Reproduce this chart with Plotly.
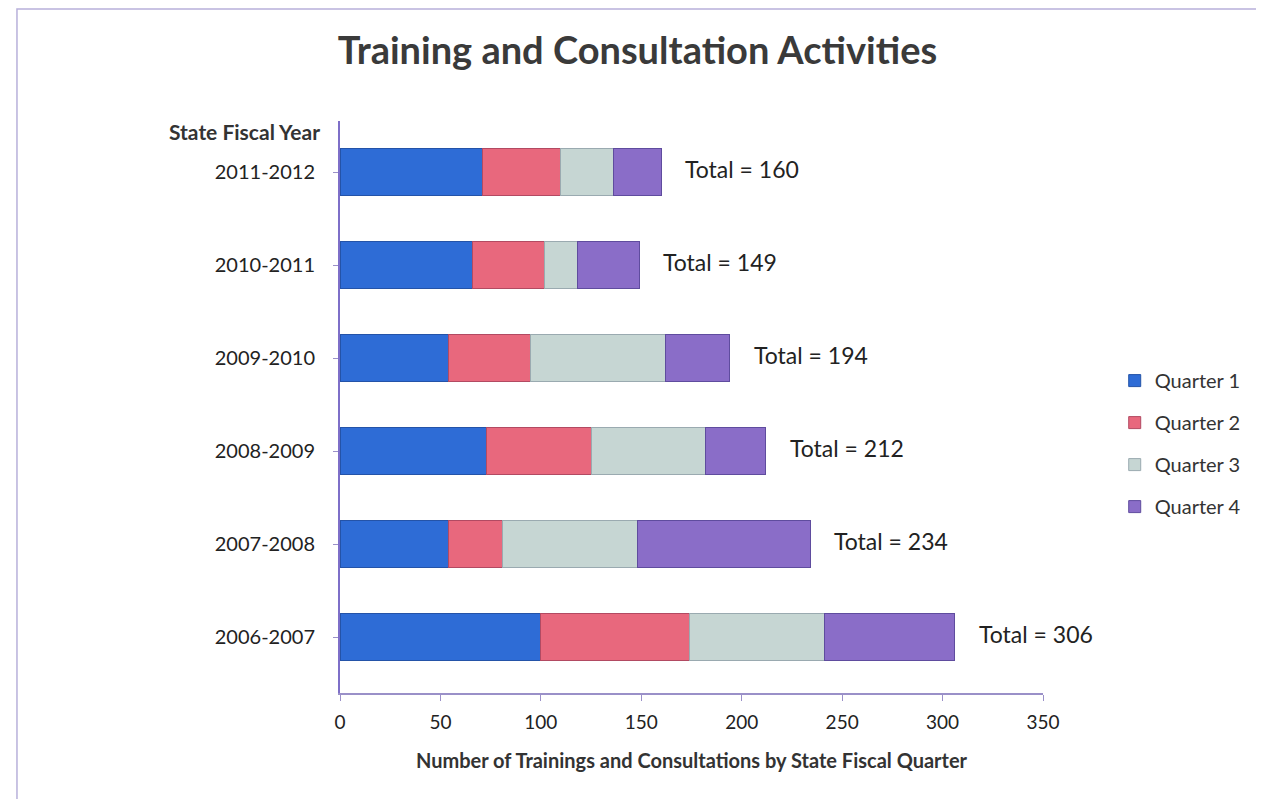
import plotly.graph_objects as go

years = ["2006-2007", "2007-2008", "2008-2009", "2009-2010", "2010-2011", "2011-2012"]
q1 = [100, 54, 73, 54, 66, 71]
q2 = [74, 27, 52, 41, 36, 39]
q3 = [67, 67, 57, 67, 16, 26]
q4 = [65, 86, 30, 32, 31, 24]
totals = [306, 234, 212, 194, 149, 160]
x_ticks = [0, 50, 100, 150, 200, 250, 300, 350]

series = [
    ("Quarter 1", q1, "#2E6CD6", "#2453A8"),
    ("Quarter 2", q2, "#E8687D", "#B24A62"),
    ("Quarter 3", q3, "#C6D6D3", "#9AAAB0"),
    ("Quarter 4", q4, "#8A6DC8", "#5F4C9E"),
]

FONT = "Lato, 'Open Sans', sans-serif"

fig = go.Figure()
for name, vals, col, edge in series:
    fig.add_trace(go.Bar(
        y=years, x=vals, name=name, orientation="h", legendgroup=name,
        marker=dict(color=col, line=dict(color=edge, width=1)),
        width=0.5,
    ))

for yr, t in zip(years, totals):
    fig.add_annotation(x=t, y=yr, text=f"Total = {t}", showarrow=False,
                       xanchor="left", xshift=22, yshift=3,
                       font=dict(size=23, color="#222222", family=FONT))

fig.add_annotation(x=-0.0256, y=0.981, xref="paper", yref="paper",
                   text="<b>State Fiscal Year</b>", showarrow=False,
                   xanchor="right", yanchor="middle",
                   font=dict(size=21, color="#333333", family=FONT))

fig.add_shape(type="rect", xref="paper", yref="paper",
              x0=-0.4595, x1=1.3058, y0=-0.2, y1=1.196,
              line=dict(color="#B8B0DA", width=1.5))

fig.update_layout(
    barmode="stack",
    width=1264, height=799,
    paper_bgcolor="white", plot_bgcolor="white",
    margin=dict(l=332, r=229, t=113, b=114),
    title=dict(text="<b>Training and Consultation Activities</b>",
               x=0.498, xanchor="center", y=0.947, yanchor="middle",
               font=dict(size=38, color="#3A3A3A", family=FONT)),
    font=dict(family=FONT, color="#222222"),
    legend=dict(x=1.102, y=0.436, xanchor="left", yanchor="middle",
                font=dict(size=20, color="#333333", family=FONT),
                traceorder="grouped", itemwidth=30, tracegroupgap=13,
                bgcolor="rgba(0,0,0,0)"),
    xaxis=dict(range=[0, 350], tickvals=x_ticks, showgrid=False,
               showline=True, linecolor="#9A90C8", linewidth=2,
               ticks="outside", ticklen=6, tickcolor="#9A90C8",
               tickfont=dict(size=19, color="#222222"),
               ticklabelstandoff=5, zeroline=False,
               title=dict(text="<b>Number of Trainings and Consultations by State Fiscal Quarter</b>",
                          font=dict(size=20, color="#333333"), standoff=22)),
    yaxis=dict(categoryorder="array", categoryarray=years,
               showgrid=False, showline=True, linecolor="#7E6FC8", linewidth=2,
               ticks="outside", ticklen=5, tickcolor="#9A90C8",
               tickfont=dict(size=20, color="#222222"),
               ticklabelstandoff=14, range=[-0.6, 5.55]),
)

fig.write_html("out.html")
